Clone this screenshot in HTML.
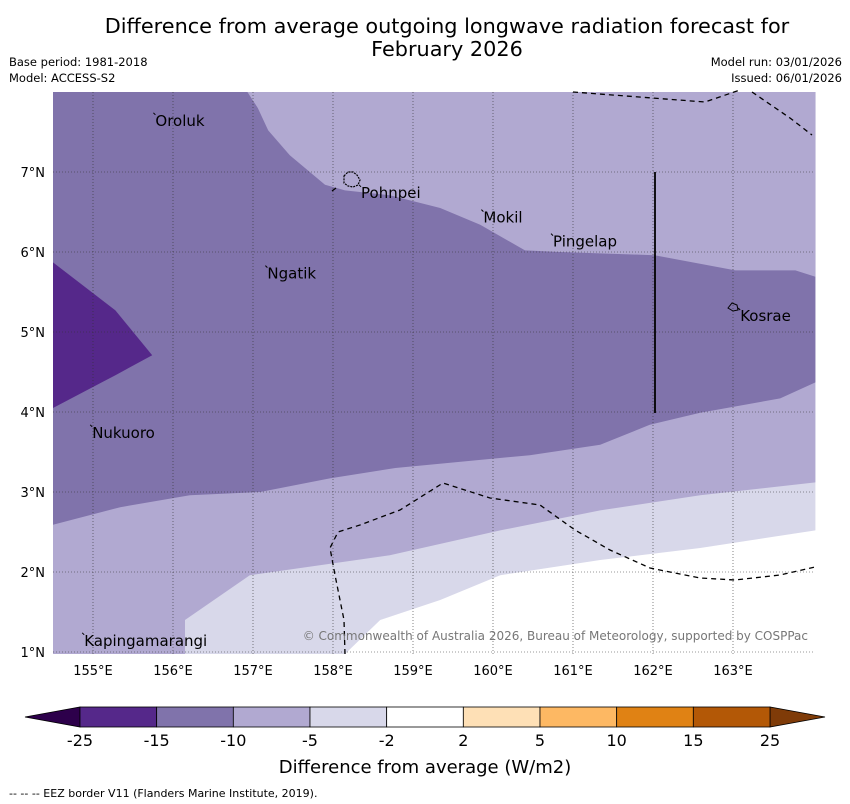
<!DOCTYPE html>
<html><head><meta charset="utf-8"><style>
body{margin:0;background:#fff;width:850px;height:804px;overflow:hidden;font-family:"DejaVu Sans","Liberation Sans",sans-serif}
svg{position:absolute;left:0;top:0}
</style></head><body>
<svg width="850" height="804" font-family="DejaVu Sans, Liberation Sans, sans-serif">
<text x="447" y="33" font-size="20.8" text-anchor="middle">Difference from average outgoing longwave radiation forecast for</text>
<text x="447" y="56" font-size="20.8" text-anchor="middle">February 2026</text>
<text x="9" y="66" font-size="11.5">Base period: 1981-2018</text>
<text x="9" y="82" font-size="11.5">Model: ACCESS-S2</text>
<text x="842" y="66" font-size="11.5" text-anchor="end">Model run: 03/01/2026</text>
<text x="842" y="82" font-size="11.5" text-anchor="end">Issued: 06/01/2026</text>
<g id="map"></g>
<g id="cb"></g>
<text x="425" y="773" font-size="18" text-anchor="middle">Difference from average (W/m2)</text>
<text x="9" y="797" font-size="11">--  --  -- EEZ border V11 (Flanders Marine Institute, 2019).</text>
</svg>
<script>
const NS='http://www.w3.org/2000/svg';
const lonTicks=[155,156,157,158,159,160,161,162,163];
const latTicks=[1,2,3,4,5,6,7];
const bndA=[[154.5,0.975],[158.15,0.975],[158.59,1.4],[159.34,1.65],[160.09,1.96],[161.34,2.15],[162.59,2.3],[164.03,2.52]];
const bndB=[[154.5,0.975],[156.15,0.975],[156.15,1.4],[156.96,1.96],[158.71,2.21],[160.09,2.52],[161.34,2.77],[162.59,2.96],[164.03,3.12]];
const bndC=[[154.5,2.59],[155.34,2.81],[156.21,2.96],[157.09,3.0],[157.96,3.17],[158.78,3.3],[160.46,3.46],[161.34,3.59],[161.96,3.84],[162.59,3.99],[163.59,4.17],[164.03,4.37]];
const bndD=[[156.93,8.0],[157.06,7.8],[157.19,7.52],[157.46,7.21],[157.9,6.84],[158.15,6.77],[158.71,6.71],[159.34,6.55],[159.84,6.34],[160.4,6.02],[160.84,6.0],[162.02,5.96],[163.03,5.77],[163.78,5.77],[164.03,5.69]];
const darkPoly=[[154.5,5.87],[155.28,5.27],[155.74,4.71],[155.28,4.46],[154.5,4.05]];
const places=[["Oroluk",155.78,7.64],["Pohnpei",158.35,6.74],["Mokil",159.88,6.43],["Pingelap",160.75,6.13],["Ngatik",157.18,5.73],["Kosrae",163.09,5.2],["Nukuoro",154.99,3.74],["Kapingamarangi",154.89,1.14]];
const cbLevels=["-25","-15","-10","-5","-2","2","5","10","15","25"];
const cbColors=["#55288a","#8073ab","#b1a9d1","#d8d8ea","#ffffff","#fee0b6","#fdb863","#e08214","#b35806"];
const X=l=>93+(l-155)*80, Y=a=>172+(7-a)*80;
const map=document.getElementById('map'), cb=document.getElementById('cb');
function mk(p,tag,at){const e=document.createElementNS(NS,tag);for(const k in at)e.setAttribute(k,at[k]);p.appendChild(e);return e;}
function pts(a){return a.map(p=>X(p[0]).toFixed(1)+','+Y(p[1]).toFixed(1)).join(' ');}
const topEdge=[[164.03,8.0],[154.5,8.0]];
let e=mk(map,'rect',{x:53,y:92,width:762,height:562,fill:'#fff'});

const layers=[[bndA.concat(topEdge),'#d8d8ea','region-minus5'],[bndB.concat(topEdge),'#b1a9d1','region-minus10'],[bndC.concat(topEdge),'#8073ab','region-minus15'],[bndD.concat([[164.03,8.0]]),'#b1a9d1','region-north-minus10'],[darkPoly,'#55288a','region-minus25']];
layers.forEach(L=>{e=mk(map,'polygon',{points:pts(L[0]),fill:L[1]});

});
lonTicks.forEach(l=>{e=mk(map,'line',{x1:X(l),x2:X(l),y1:92,y2:654,stroke:'#333',"stroke-width":0.6,"stroke-dasharray":"1,2"});


e=mk(map,'text',{x:X(l),y:675,"font-size":13,"text-anchor":"middle"});e.textContent=l+'°E';

});
latTicks.forEach(a=>{e=mk(map,'line',{x1:53,x2:815,y1:Y(a),y2:Y(a),stroke:'#333',"stroke-width":0.6,"stroke-dasharray":"1,2"});


e=mk(map,'text',{x:45,y:Y(a)+5,"font-size":13,"text-anchor":"end"});e.textContent=a+'°N';

});
[["345,654 344,620 335,575 330,548 338,532 360,525 400,510 443,483 490,498 540,505 575,530 610,550 650,568 700,578 735,580 780,575 815,567"],["573,92 705,102 740,90"],["752,92 790,118 812,135"],["332,191 336,188"]].forEach(d=>{
e=mk(map,'polyline',{points:d[0],fill:'none',stroke:'#000',"stroke-width":1.3,"stroke-dasharray":"5,4"});

});
e=mk(map,'line',{x1:655,x2:655,y1:172,y2:413,stroke:'#000',"stroke-width":1.8});

e=mk(map,'path',{d:"M344,176 l4,-4 l5,0 l4,3 l3,5 l-2,5 l-5,2 l-5,-1 l-4,-3 z",fill:'none',stroke:'#000',"stroke-width":1.2,"stroke-dasharray":"2,1"});

e=mk(map,'path',{d:"M728,308 l4,-5 l5,2 l1,5 l-5,1 z",fill:'none',stroke:'#000',"stroke-width":1});

places.forEach(p=>{e=mk(map,'text',{x:X(p[1]),y:Y(p[2])+5,"font-size":15});e.textContent=p[0];


e=mk(map,'line',{x1:X(p[1])-2,y1:Y(p[2])-8,x2:X(p[1]),y2:Y(p[2])-6,stroke:'#000',"stroke-width":1});

});
e=mk(map,'text',{x:808,y:640,"font-size":12,fill:'#777',"text-anchor":"end"});e.textContent='© Commonwealth of Australia 2026, Bureau of Meteorology, supported by COSPPac';

const cx0=80,cw=(770-80)/9;
e=mk(cb,'polygon',{points:`25,717 ${cx0},707 ${cx0},727`,fill:'#2d004b',stroke:'#000',"stroke-width":0.8});

e=mk(cb,'polygon',{points:`825,717 770,707 770,727`,fill:'#7f3b08',stroke:'#000',"stroke-width":0.8});

cbColors.forEach((c,i)=>{e=mk(cb,'rect',{x:cx0+i*cw,y:707,width:cw,height:20,fill:c,stroke:'#000',"stroke-width":0.8});

});
cbLevels.forEach((t,i)=>{e=mk(cb,'text',{x:cx0+i*cw,y:746,"font-size":16,"text-anchor":"middle"});e.textContent=t;

});
</script>
</body></html>
